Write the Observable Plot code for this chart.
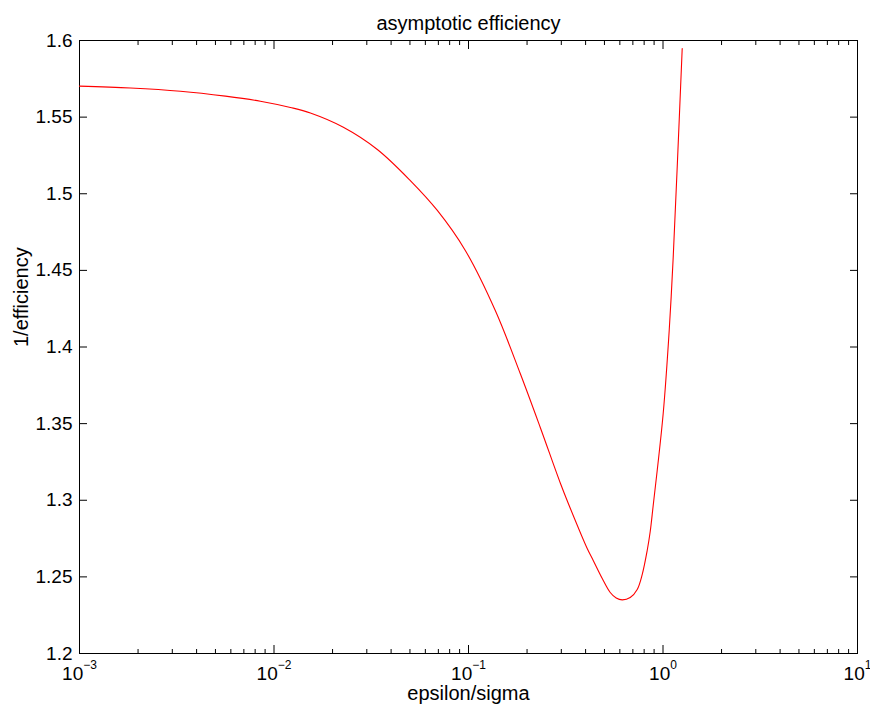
<!DOCTYPE html>
<html>
<head>
<meta charset="utf-8">
<script src="https://cdn.jsdelivr.net/npm/d3@7"></script>
<script src="https://cdn.jsdelivr.net/npm/@observablehq/plot@0.6"></script>
<style>
  html, body { margin: 0; padding: 0; background: #fff; }
</style>
</head>
<body>
<div id="chart"></div>
<script>
// ---- data ----
const epsOverSigma = [
  0.001, 0.001829, 0.003304, 0.005627, 0.008515, 0.012144, 0.015384, 0.022728,
  0.033987, 0.050223, 0.069141, 0.096296, 0.13732, 0.18451, 0.23388, 0.29708,
  0.32600, 0.40770, 0.43782, 0.48718, 0.53544, 0.57465, 0.61717, 0.67831,
  0.73689, 0.78165, 0.82943, 0.85957, 0.89047, 0.93370, 1.0023, 1.0762,
  1.1283, 1.1830, 1.2553
];
const invEfficiency = [
  1.5702, 1.5690, 1.5669, 1.5637, 1.5604, 1.5563, 1.5527, 1.5434,
  1.5289, 1.5086, 1.4891, 1.4630, 1.4238, 1.3827, 1.3475, 1.3109,
  1.2979, 1.2685, 1.2607, 1.2489, 1.2398, 1.2362, 1.2350, 1.2365,
  1.2418, 1.2515, 1.2672, 1.2796, 1.2966, 1.3194, 1.3566, 1.4108,
  1.4584, 1.5171, 1.5948
];

const xMajorTicks = [0.001, 0.01, 0.1, 1, 10];
const xTickBases = ["10", "10", "10", "10", "10"];
const xTickExponents = ["\u22123", "\u22122", "\u22121", "0", "1"];
const yTicks = [1.2, 1.25, 1.3, 1.35, 1.4, 1.45, 1.5, 1.55, 1.6];
const yTickLabels = ["1.2", "1.25", "1.3", "1.35", "1.4", "1.45", "1.5", "1.55", "1.6"];

const titleText = "asymptotic efficiency";
const xLabelText = "epsilon/sigma";
const yLabelText = "1/efficiency";

// minor log ticks (2..9 in each decade)
const xMinorTicks = [];
for (let i = 0; i < xMajorTicks.length - 1; i++) {
  for (let m = 2; m <= 9; m++) xMinorTicks.push(xMajorTicks[i] * m);
}

const data = epsOverSigma.map((x, i) => ({x, y: invEfficiency[i]}));
const xLabelData = xMajorTicks.map((v, i) => ({v, label: xTickBases[i] + "^" + xTickExponents[i]}));

const FONT = "'Liberation Sans', Arial, Helvetica, sans-serif";

const chart = Plot.plot({
  width: 870,
  height: 714,
  marginTop: 40,
  marginLeft: 79,
  marginRight: 13,
  marginBottom: 61,
  style: {fontFamily: FONT, fontSize: "19px", color: "black", background: "white", overflow: "visible"},
  x: {type: "log", domain: [0.001, 10]},
  y: {domain: [1.2, 1.6]},
  marks: [
    Plot.frame({stroke: "black", strokeWidth: 1}),
    Plot.axisX(xMinorTicks, {anchor: "bottom", tickSize: -4, fill: "none", label: null, stroke: "black"}),
    Plot.axisX(xMinorTicks, {anchor: "top", tickSize: -4, fill: "none", label: null, stroke: "black"}),
    Plot.axisX(xMajorTicks, {anchor: "bottom", tickSize: -8, fill: "none", label: null, stroke: "black"}),
    Plot.axisX(xMajorTicks, {anchor: "top", tickSize: -8, fill: "none", label: null, stroke: "black"}),
    Plot.axisY(yTicks, {anchor: "left", tickSize: -8, fill: "none", label: null, stroke: "black"}),
    Plot.axisY(yTicks, {anchor: "right", tickSize: -8, fill: "none", label: null, stroke: "black"}),
    Plot.axisY(yTicks, {
      anchor: "left", tickSize: 0, tickPadding: 7, label: null, fill: "black", fontSize: 19,
      tickFormat: d => yTickLabels[yTicks.indexOf(d)]
    }),
    Plot.text(xLabelData, {
      x: "v", text: "label", frameAnchor: "bottom", dy: 26, fontSize: 19, fill: "black"
    }),
    Plot.line(data, {x: "x", y: "y", stroke: "#ff0000", strokeWidth: 1.1, curve: "catmull-rom"}),
    Plot.text([titleText], {frameAnchor: "top", dy: -25, fontSize: 20, fill: "black"}),
    Plot.text([xLabelText], {frameAnchor: "bottom", dy: 46, fontSize: 20, fill: "black"}),
    Plot.text([yLabelText], {frameAnchor: "left", dx: -58, rotate: -90, fontSize: 20, fill: "black"})
  ]
});

// turn "10^e" into 10 with a superscript exponent
d3.select(chart).selectAll("text").filter(function () {
  return this.textContent.indexOf("^") >= 0;
}).each(function () {
  const parts = this.textContent.split("^");
  const t = d3.select(this);
  t.selectAll("*").remove();
  t.text(null);
  t.append("tspan").text(parts[0]);
  t.append("tspan").attr("dy", -11).attr("font-size", 12).text(parts[1]);
});

document.getElementById("chart").appendChild(chart);
</script>
</body>
</html>
